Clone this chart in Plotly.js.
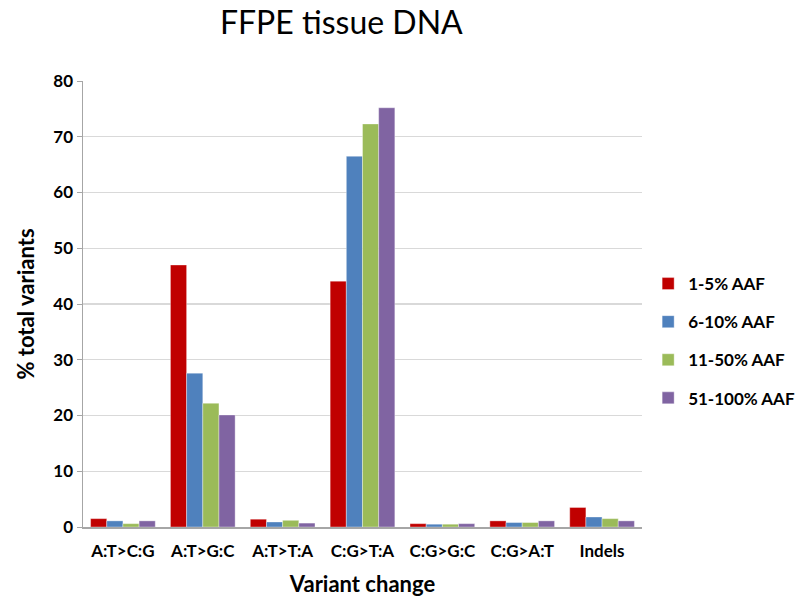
<!DOCTYPE html>
<html>
<head>
<meta charset="utf-8">
<script src="https://cdn.plot.ly/plotly-3.0.1.min.js"></script>
<style>html,body{margin:0;padding:0;background:#fff;}#chart{width:807px;height:608px;}</style>
</head>
<body>
<div id="chart"></div>
<script>
var categories = ["A:T>C:G", "A:T>G:C", "A:T>T:A", "C:G>T:A", "C:G>G:C", "C:G>A:T", "Indels"];
var seriesNames = ["1-5% AAF", "6-10% AAF", "11-50% AAF", "51-100% AAF"];
var aaf1to5 = [1.5, 47.0, 1.4, 44.1, 0.6, 1.1, 3.5];
var aaf6to10 = [1.1, 27.6, 0.9, 66.5, 0.5, 0.8, 1.8];
var aaf11to50 = [0.6, 22.2, 1.2, 72.3, 0.5, 0.8, 1.5];
var aaf51to100 = [1.1, 20.1, 0.7, 75.2, 0.6, 1.1, 1.1];
var yTicks = [0, 10, 20, 30, 40, 50, 60, 70, 80];

var colors = ["#C00000", "#4F81BD", "#9BBB59", "#8064A2"];
var seriesData = [aaf1to5, aaf6to10, aaf11to50, aaf51to100];

var traces = seriesData.map(function (vals, i) {
  return {
    type: "bar",
    name: seriesNames[i],
    x: categories,
    y: vals,
    legendgroup: "g" + i,
    marker: { color: colors[i], line: { color: "rgba(255,255,255,0.6)", width: 0.6 } },
    hoverinfo: "x+y+name"
  };
});

var font = "Lato, 'Open Sans', 'Liberation Sans', sans-serif";

var layout = {
  width: 807,
  height: 608,
  paper_bgcolor: "#ffffff",
  plot_bgcolor: "#ffffff",
  margin: { l: 83, r: 165, t: 81, b: 81, autoexpand: false },
  barmode: "group",
  bargap: 0.19,
  bargroupgap: 0,
  title: {
    text: "FFPE tissue DNA",
    font: { family: font, size: 32, color: "#000000" },
    x: 0.423, xanchor: "center",
    y: 0.962, yanchor: "middle"
  },
  xaxis: {
    type: "category",
    showline: true,
    linecolor: "#A6A6A6",
    linewidth: 1.5,
    ticks: "outside",
    ticklen: 8,
    tickcolor: "rgba(0,0,0,0)",
    tickfont: { family: font, size: 17, color: "#000000", weight: "bold" },
    title: { text: "Variant change", font: { family: font, size: 22, color: "#000000", weight: "bold" }, standoff: 16 },
    showgrid: false
  },
  yaxis: {
    range: [0, 80],
    tickvals: yTicks,
    showline: true,
    linecolor: "#A6A6A6",
    linewidth: 1.5,
    ticks: "outside",
    ticklen: 5,
    tickcolor: "#A6A6A6",
    tickfont: { family: font, size: 17, color: "#000000", weight: "bold" },
    showgrid: true,
    gridcolor: "#D9D9D9",
    gridwidth: 1.2,
    zeroline: false,
    title: { text: "% total variants", font: { family: font, size: 22, color: "#000000", weight: "bold" }, standoff: 12 }
  },
  showlegend: true,
  legend: {
    x: 1.011, xanchor: "left",
    y: 0.417, yanchor: "middle",
    font: { family: font, size: 17, color: "#000000", weight: "bold" },
    tracegroupgap: 13,
    itemwidth: 30,
    bgcolor: "rgba(0,0,0,0)"
  }
};

Plotly.newPlot("chart", traces, layout, { displayModeBar: false, staticPlot: true });
</script>
</body>
</html>
